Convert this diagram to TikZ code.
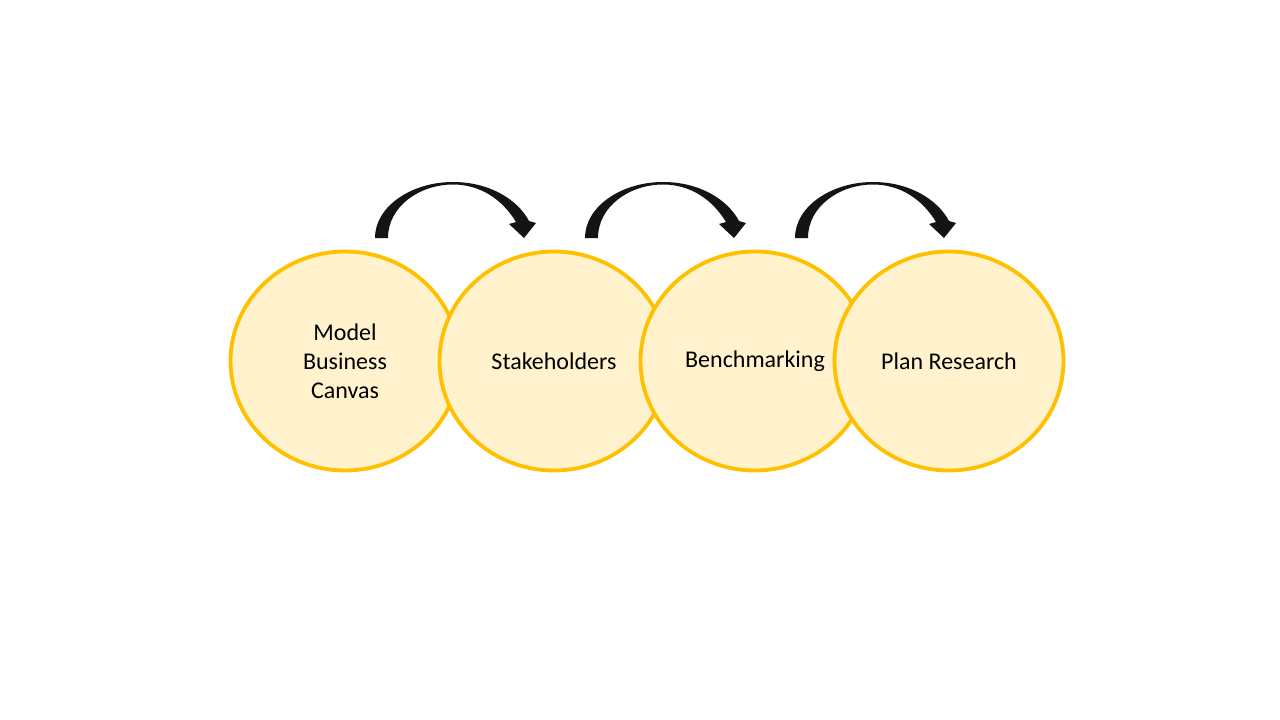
\documentclass[tikz,border=0pt]{standalone}
\usepackage{fontspec}
\setmainfont{Carlito}
\usetikzlibrary{shapes.geometric}
\definecolor{ringc}{HTML}{FFC000}
\definecolor{fillc}{HTML}{FFF2CC}
\definecolor{arrc}{HTML}{141414}
\tikzset{
  stage/.style={ellipse, draw=ringc, fill=fillc, line width=3.8pt,
    minimum width=229pt, minimum height=219pt, inner sep=0pt,
    align=center, font=\fontsize{24}{29}\selectfont},
  curvedarrow/.style={fill=arrc, draw=none}
}
\newcommand{\bendarrow}{%
  (375,238) .. controls (375,206) and (412,182) .. (453,182)
  .. controls (490,182) and (518,200) .. (529,221)
  -- (536,223) -- (524,238) -- (509,224) -- (516,222)
  .. controls (502,199) and (480,184.5) .. (453,184.5)
  .. controls (420,184.5) and (388,206) .. (388,238) -- cycle}
\begin{document}
\begin{tikzpicture}[x=1pt,y=-1pt]
\useasboundingbox (0,0) rectangle (1280,720);
\node[stage] (mbc) at (345,361) {Model\\Business\\Canvas};
\node[stage] (stk) at (554,361) {Stakeholders};
\node[stage] (bch) at (755,361) {Benchmarking};
\node[stage] (plr) at (949,361) {Plan Research};
\fill[curvedarrow] \bendarrow;
\begin{scope}[xshift=210pt]
\fill[curvedarrow] \bendarrow;
\end{scope}
\begin{scope}[xshift=420pt]
\fill[curvedarrow] \bendarrow;
\end{scope}
\end{tikzpicture}
\end{document}
